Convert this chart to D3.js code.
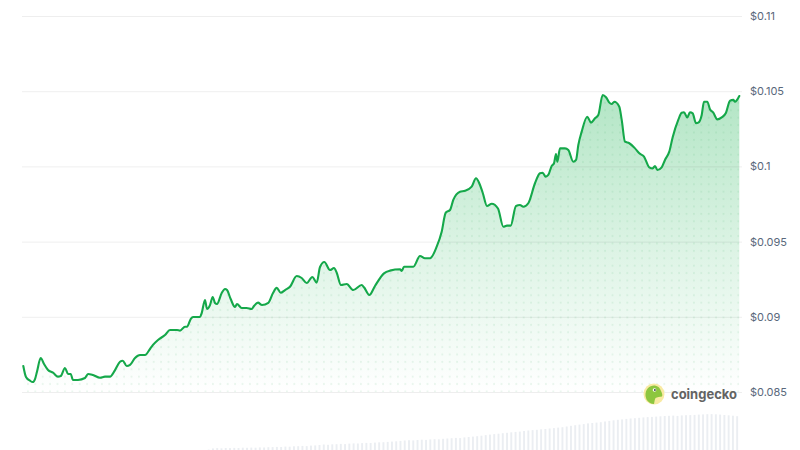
<!DOCTYPE html>
<html>
<head>
<meta charset="utf-8">
<script src="https://cdn.jsdelivr.net/npm/d3@7/dist/d3.min.js"></script>
<style>
  html, body { margin: 0; padding: 0; background: #ffffff; }
  svg { display: block; }
</style>
</head>
<body>
<svg id="chart" width="800" height="450"></svg>
<script>
// ---- DATA ----
// hours since start of the 7-day window
const hours = [0,0.63,1.57,2.21,2.75,3.21,4.08,4.86,5.80,6.97,8.14,8.78,9.78,10.49,11.12,11.66,12.83,14.48,15.18,16.35,18.00,19.17,20.34,21.52,22.69,23.32,24.26,25.04,26.21,27.38,28.56,29.73,30.43,31.61,33.25,34.42,36.06,36.77,37.94,38.41,39.28,39.82,41.46,41.86,42.63,43.10,43.81,44.44,44.98,45.45,46.55,47.33,47.80,48.66,49.67,50.14,51.24,52.42,53.59,54.13,55.07,56.01,57.49,58.59,59.46,60.40,61.41,62.58,64.15,65.32,66.50,67.81,68.84,69.62,70.63,71.96,72.90,73.54,74.54,75.88,77.43,79.40,79.94,81.19,82.52,84.63,86.04,88.39,88.79,89.33,91.51,93.08,94.25,95.43,97.00,98.17,99.11,100.12,100.89,102.47,103.64,105.21,106.22,106.99,107.79,108.80,109.91,111.38,112.63,113.49,114.36,115.60,116.54,117.32,118.49,120.06,121.23,121.87,122.57,123.18,123.98,124.52,124.99,125.30,125.93,127.10,127.88,129.05,129.69,130.23,131.02,132.34,133.20,134.14,134.92,135.95,136.72,137.50,138.06,138.67,139.84,140.41,141.18,142.19,143.53,144.54,145.64,146.88,147.68,148.22,148.76,149.79,150.56,151.57,152.37,153.68,154.48,155.02,155.79,156.43,157.06,157.84,158.38,159.18,159.71,160.49,161.12,161.90,162.84,163.87,164.88,165.82,166.59,166.99,168.00];
// price in USD
const prices = [0.08673,0.08600,0.08575,0.08566,0.08586,0.08635,0.08726,0.08686,0.08646,0.08628,0.08602,0.08606,0.08660,0.08620,0.08620,0.08580,0.08580,0.08593,0.08620,0.08613,0.08595,0.08602,0.08602,0.08646,0.08701,0.08708,0.08673,0.08680,0.08726,0.08746,0.08746,0.08786,0.08813,0.08846,0.08879,0.08912,0.08912,0.08908,0.08934,0.08934,0.08985,0.08999,0.08999,0.09025,0.09112,0.09052,0.09078,0.09132,0.09092,0.09085,0.09158,0.09185,0.09178,0.09118,0.09065,0.09085,0.09059,0.09059,0.09052,0.09072,0.09094,0.09078,0.09092,0.09158,0.09192,0.09160,0.09178,0.09200,0.09271,0.09258,0.09225,0.09265,0.09227,0.09331,0.09364,0.09311,0.09324,0.09293,0.09211,0.09218,0.09178,0.09211,0.09196,0.09145,0.09205,0.09289,0.09307,0.09316,0.09305,0.09333,0.09333,0.09404,0.09389,0.09389,0.09466,0.09566,0.09692,0.09710,0.09777,0.09832,0.09838,0.09865,0.09921,0.09888,0.09825,0.09737,0.09752,0.09720,0.09599,0.09606,0.09606,0.09737,0.09743,0.09732,0.09755,0.09888,0.09954,0.09958,0.09932,0.09943,0.10003,0.10021,0.10082,0.10031,0.10120,0.10120,0.10109,0.10031,0.10043,0.10142,0.10231,0.10330,0.10291,0.10320,0.10342,0.10475,0.10460,0.10424,0.10415,0.10430,0.10397,0.10309,0.10164,0.10154,0.10120,0.10087,0.10065,0.09994,0.09987,0.10003,0.09976,0.09994,0.10043,0.10098,0.10194,0.10309,0.10357,0.10360,0.10326,0.10360,0.10353,0.10287,0.10291,0.10342,0.10430,0.10430,0.10380,0.10357,0.10313,0.10326,0.10357,0.10437,0.10442,0.10430,0.10468];
// hourly volume (relative units)
const volumes = [0.1,0.1,0.1,0.1,0.1,0.1,0.2,0.2,0.2,0.2,
  0.2,0.2,0.3,0.3,0.3,0.3,0.3,0.4,0.4,0.4,
  0.4,0.4,0.5,0.5,0.5,0.5,0.6,0.6,0.6,0.6,
  0.7,0.7,0.7,0.7,0.8,0.8,0.8,0.8,0.9,0.9,
  0.9,1.0,1.0,1.4,2.6,2.9,2.7,3.0,2.9,3.1,
  3.0,3.3,3.2,3.4,3.3,3.6,3.5,3.8,3.9,4.1,
  4.0,4.4,4.3,4.7,4.8,5.1,4.9,5.4,5.6,6.0,
  6.5,6.2,6.7,6.8,7.1,6.9,7.4,7.6,7.5,7.9,
  8.1,8.0,8.4,8.7,8.8,9.1,9.4,9.7,10.1,10.5,
  10.8,10.6,11.0,11.3,11.1,11.6,11.8,11.7,12.2,12.5,
  12.8,13.1,12.9,13.6,14.0,14.4,14.8,15.3,15.9,16.4,
  16.9,17.3,17.8,18.2,18.7,19.1,19.4,20.0,20.5,20.9,
  21.2,21.7,22.0,22.5,22.9,23.4,23.8,24.5,25.2,25.8,
  26.4,26.9,27.6,28.0,28.4,28.8,29.5,30.1,30.7,31.2,
  31.6,32.1,32.5,32.8,33.2,33.6,33.9,34.1,34.4,34.7,
  35.0,35.2,35.4,35.1,35.6,35.8,35.9,36.1,36.4,36.6,
  36.8,36.9,36.7,36.4,36.0,35.7,35.3,34.8];
const tickValues = [0.085, 0.09, 0.095, 0.1, 0.105, 0.11];
const tickLabels = ["$0.085", "$0.09", "$0.095", "$0.1", "$0.105", "$0.11"];
const brandName = "coingecko";

// ---- LAYOUT ----
const svg = d3.select("#chart");
const plotLeft = 22, plotRight = 742;
const x = d3.scaleLinear().domain([0, 168]).range([23.3, 739.3]);
const y = d3.scaleLinear().domain([0.085, 0.11]).range([392, 16]);
const yVol = d3.scaleLinear().domain([0, 40]).range([451, 411]);

const data = hours.map((h, i) => ({ h, p: prices[i] }));

const defs = svg.append("defs");
const grad = defs.append("linearGradient")
  .attr("id", "areaGrad").attr("gradientUnits", "userSpaceOnUse")
  .attr("x1", 0).attr("x2", 0).attr("y1", y(0.105)).attr("y2", y(0.085));
grad.append("stop").attr("offset", "0%").attr("stop-color", "#16b14e").attr("stop-opacity", 0.33);
grad.append("stop").attr("offset", "55%").attr("stop-color", "#16b14e").attr("stop-opacity", 0.14);
grad.append("stop").attr("offset", "100%").attr("stop-color", "#16b14e").attr("stop-opacity", 0.0);

const pat = defs.append("pattern")
  .attr("id", "dots").attr("patternUnits", "userSpaceOnUse")
  .attr("width", 7.4).attr("height", 7.4).attr("x", 2).attr("y", 3);
pat.append("circle").attr("cx", 3.7).attr("cy", 3.7).attr("r", 1.05)
  .attr("fill", "#1a9e48").attr("fill-opacity", 0.09);

// volume bars
const bw = (x(1) - x(0)) * 0.45;
svg.append("g").selectAll("rect").data(volumes).join("rect")
  .attr("x", (d, i) => x(i + 0.5) - bw / 2)
  .attr("width", bw)
  .attr("y", d => yVol(d))
  .attr("height", d => yVol(0) - yVol(d))
  .attr("fill", "#ebeef2");

// area
const area = d3.area().x(d => x(d.h)).y0(y(0.085)).y1(d => y(d.p));
svg.append("path").datum(data).attr("d", area).attr("fill", "url(#areaGrad)");
svg.append("path").datum(data).attr("d", area).attr("fill", "url(#dots)");

// grid + right axis
const axis = d3.axisRight(y)
  .tickValues(tickValues)
  .tickFormat((d, i) => tickLabels[i])
  .tickSize(-(plotRight - plotLeft))
  .tickPadding(8);
const gAxis = svg.append("g").attr("transform", `translate(${plotRight},0)`).call(axis);
gAxis.select(".domain").remove();
gAxis.selectAll(".tick line").attr("stroke", "#000").attr("stroke-opacity", 0.065);
gAxis.selectAll(".tick text")
  .attr("fill", "#5a687b")
  .attr("font-family", "Inter, 'Noto Sans', sans-serif")
  .attr("font-size", 11);

// price line
const line = d3.line().x(d => x(d.h)).y(d => y(d.p)).curve(d3.curveMonotoneX);
svg.append("path").datum(data).attr("d", line)
  .attr("fill", "none").attr("stroke", "#15a84a").attr("stroke-width", 2.1)
  .attr("stroke-linejoin", "round").attr("stroke-linecap", "round");

// watermark logo
const logo = svg.append("g").attr("transform", "translate(654,394)");
logo.append("circle").attr("r", 10.5).attr("fill", "#f9eaa3");
logo.append("path")
  .attr("d", "M-8.5,2 C-9,-5 -4,-9 1,-8.5 C4,-8 6,-6 7,-3 C8,-1 8.8,1 8,2.5 C6,3 3,3 1.5,4 C0.5,6 0.5,8 0,10 C-3,10 -6,8 -7.5,5.5 Z")
  .attr("fill", "#8dc63f");
logo.append("circle").attr("cx", 0.5).attr("cy", -4).attr("r", 1.8).attr("fill", "#ffffff");
logo.append("circle").attr("cx", 0.9).attr("cy", -4).attr("r", 1.0).attr("fill", "#4b4b4b");
svg.append("text").attr("x", 671).attr("y", 398.5)
  .attr("font-family", "Inter, 'Noto Sans', sans-serif")
  .attr("font-weight", 700).attr("font-size", 13.5)
  .attr("fill", "#636363").attr("textLength", 66).attr("lengthAdjust", "spacingAndGlyphs")
  .text(brandName);
</script>
</body>
</html>
